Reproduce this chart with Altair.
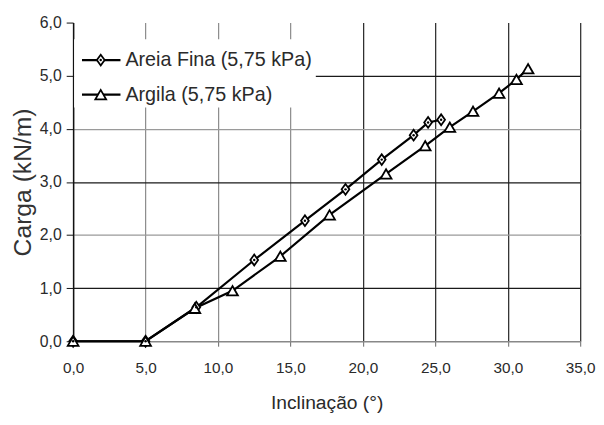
import altair as alt
import pandas as pd

# ---- data ----
series_names = ["Areia Fina (5,75 kPa)", "Argila (5,75 kPa)"]
areia_x = [0.0, 5.0, 8.5, 12.5, 16.0, 18.8, 21.3, 23.5, 24.5, 25.4]
areia_y = [0.0, 0.0, 0.64, 1.53, 2.27, 2.86, 3.42, 3.88, 4.12, 4.17]
argila_x = [0.0, 5.0, 8.4, 11.0, 14.3, 17.7, 21.6, 24.3, 26.0, 27.6, 29.4, 30.6, 31.4]
argila_y = [0.0, 0.0, 0.62, 0.95, 1.60, 2.38, 3.15, 3.68, 4.03, 4.33, 4.67, 4.93, 5.13]
x_ticks = [0, 5, 10, 15, 20, 25, 30, 35]
y_ticks = [0, 1, 2, 3, 4, 5, 6]

rows = []
for xv, yv in zip(areia_x, areia_y):
    rows.append({"serie": series_names[0], "x": xv, "y": yv})
for xv, yv in zip(argila_x, argila_y):
    rows.append({"serie": series_names[1], "x": xv, "y": yv})
df = pd.DataFrame(rows)

DIAMOND = "M0,-1L0.72,0L0,1L-0.72,0Z"
TRI = "triangle-up"
FONT = "Liberation Sans, Arial, sans-serif"
TXT = "#2a2a2a"
comma = "replace(format(datum.value, '.1f'), '.', ',')"

x_enc = alt.X(
    "x:Q",
    scale=alt.Scale(domain=[0, 35], nice=False, zero=False),
    axis=alt.Axis(
        values=x_ticks, labelExpr=comma, title="Inclinação (°)", labelFlush=False,
        labelFont=FONT, labelFontSize=15.5, labelColor=TXT, labelPadding=15,
        tickSize=5, tickColor="#666666", domainColor="#888888", domainWidth=1.5,
        gridColor=alt.condition("datum.value >= 20", alt.value("#222222"), alt.value("#8a8a8a")),
        gridWidth=1.2,
        titleFont=FONT, titleFontSize=19.5, titleFontWeight="normal", titleColor=TXT,
        titleBaseline="alphabetic", titleY=68,
    ),
)
y_enc = alt.Y(
    "y:Q",
    scale=alt.Scale(domain=[0, 6], nice=False, zero=False),
    axis=alt.Axis(
        values=y_ticks, labelExpr=comma, title="Carga (kN/m)", labelFlush=False,
        labelFont=FONT, labelFontSize=16, labelColor=TXT, labelPadding=5,
        tickSize=7, tickColor="#111111", domainColor="#111111", domainWidth=1.5,
        gridColor=alt.condition("datum.value % 2 == 1", alt.value("#1a1a1a"), alt.value("#9a9a9a")),
        gridOpacity=alt.condition("datum.value == 6 || datum.value == 0", alt.value(0), alt.value(1)),
        gridWidth=1.3,
        titleFont=FONT, titleFontSize=25,
        titleFontWeight="normal", titleColor="#333333",
        titleBaseline="alphabetic", titleX=-43,
    ),
)

base = alt.Chart(df)

lines = base.mark_line(color="black", strokeWidth=2.2).encode(
    x=x_enc, y=y_enc, detail="serie:N"
)
points = base.mark_point(
    fill="white", stroke="black", strokeWidth=1.8, opacity=1, size=120
).encode(
    x="x:Q", y="y:Q",
    shape=alt.Shape("serie:N", scale=alt.Scale(domain=series_names, range=[DIAMOND, TRI]), legend=None),
)
dots = base.transform_filter(alt.datum.serie == series_names[0]).mark_point(
    shape="circle", filled=True, color="black", size=6, opacity=1
).encode(x="x:Q", y="y:Q")

# ---- manual legend (white box over the grid) ----
leg_box = alt.Chart(pd.DataFrame({"k": [0]})).mark_rect(fill="white").encode(
    x=alt.value(1), x2=alt.value(246), y=alt.value(17), y2=alt.value(86)
)
legend_layers = [leg_box]
leg_rows = [(series_names[0], DIAMOND, 38), (series_names[1], TRI, 73)]
for name, shp, yy in leg_rows:
    ldf = pd.DataFrame({"label": [name]})
    legend_layers.append(
        alt.Chart(ldf).mark_rule(color="black", strokeWidth=2.2).encode(
            x=alt.value(9), x2=alt.value(48), y=alt.value(yy)
        )
    )
    legend_layers.append(
        alt.Chart(ldf).mark_point(fill="white", stroke="black", strokeWidth=1.8, opacity=1, size=120, shape=shp).encode(
            x=alt.value(28), y=alt.value(yy)
        )
    )
    if shp == DIAMOND:
        legend_layers.append(
            alt.Chart(ldf).mark_point(shape="circle", filled=True, color="black", size=6, opacity=1).encode(
                x=alt.value(28), y=alt.value(yy)
            )
        )
    legend_layers.append(
        alt.Chart(ldf).mark_text(
            align="left", baseline="middle", font=FONT, fontSize=20, color=TXT
        ).encode(x=alt.value(53), y=alt.value(yy), text="label:N")
    )

chart = alt.layer(lines, points, dots, *legend_layers).properties(
    width=514, height=323,
    autosize=alt.AutoSizeParams(type="none"),
    padding={"left": 66, "top": 12, "right": 16, "bottom": 74},
    background="white",
).configure_view(stroke=None)

chart.save("out.html", embed_options={"renderer": "svg", "actions": False})
